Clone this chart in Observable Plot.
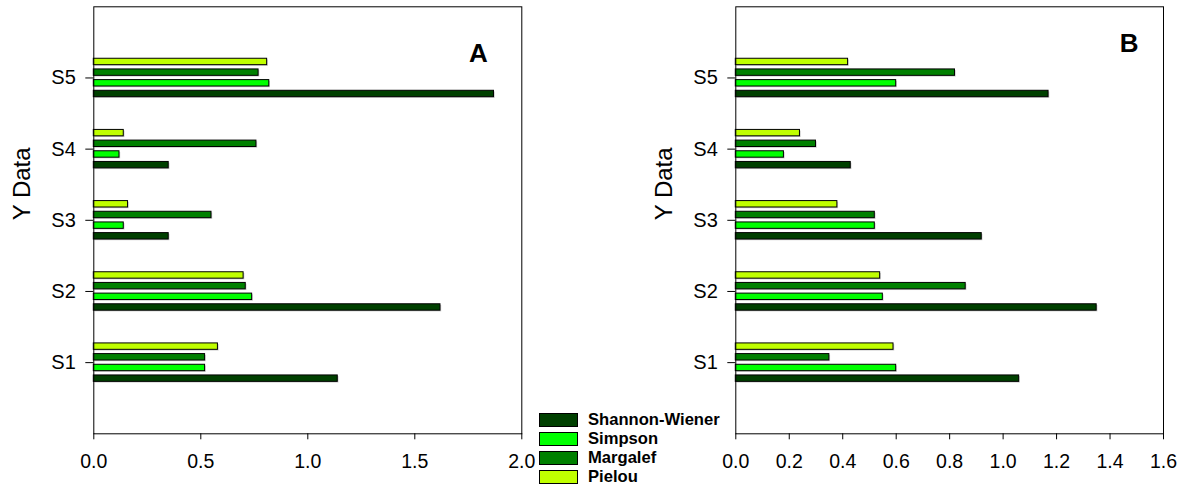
<!DOCTYPE html>
<html>
<head>
<meta charset="utf-8">
<script src="https://cdn.jsdelivr.net/npm/d3@7"></script>
<script src="https://cdn.jsdelivr.net/npm/@observablehq/plot@0.6"></script>
<style>
  html, body { margin: 0; padding: 0; background: #fff; }
  #fig { position: relative; width: 1183px; height: 486px; font-family: "Liberation Sans", Arial, sans-serif; }
  #fig svg { position: absolute; top: 0; }
  #legend { position: absolute; left: 539px; top: 410px; }
  #legend .row { display: flex; align-items: center; height: 19px; }
  #legend .sw { width: 37px; height: 12px; border: 1px solid #000; box-sizing: content-box; }
  #legend .lb { margin-left: 10px; font-weight: bold; font-size: 16.6px; line-height: 14px; }
</style>
</head>
<body>
<div id="fig"></div>
<script>
// Diversity indices per site
const sites = ["S1", "S2", "S3", "S4", "S5"];
const indices = ["Shannon-Wiener", "Simpson", "Margalef", "Pielou"];
const colors = ["#004000", "#00ff00", "#008000", "#c0ff00"];

// Panel A
const shannonA  = [1.14, 1.62, 0.35, 0.35, 1.87];
const simpsonA  = [0.52, 0.74, 0.14, 0.12, 0.82];
const margalefA = [0.52, 0.71, 0.55, 0.76, 0.77];
const pielouA   = [0.58, 0.70, 0.16, 0.14, 0.81];

// Panel B
const shannonB  = [1.06, 1.35, 0.92, 0.43, 1.17];
const simpsonB  = [0.60, 0.55, 0.52, 0.18, 0.60];
const margalefB = [0.35, 0.86, 0.52, 0.30, 0.82];
const pielouB   = [0.59, 0.54, 0.38, 0.24, 0.42];

const xTicksA = [0, 0.5, 1.0, 1.5, 2.0];
const xTicksB = [0, 0.2, 0.4, 0.6, 0.8, 1.0, 1.2, 1.4, 1.6];

const font = "'Liberation Sans', Arial, sans-serif";
const offsets = [-0.225, -0.075, 0.075, 0.225]; // bar position within a site group
const half = 0.045;                              // half bar thickness

function rows(series) {
  const out = [];
  series.forEach((vals, k) => {
    vals.forEach((v, i) => {
      const c = i + 1 + offsets[k];
      out.push({site: sites[i], index: indices[k], value: v, y1: c - half, y2: c + half});
    });
  });
  return out;
}

function panel({series, xMax, xTicks, letter, width, marginLeft, marginRight, letterDx, letterDy}) {
  const data = rows(series);
  return Plot.plot({
    width, height: 486,
    marginLeft, marginRight, marginTop: 6.3, marginBottom: 52.7,
    style: {fontFamily: font, background: "transparent", overflow: "visible"},
    x: {domain: [0, xMax]},
    y: {domain: [0, 6]},
    color: {domain: indices, range: colors},
    marks: [
      // soft drop shadow under each bar
      Plot.rectX(data, {x1: 0, x2: "value", y1: "y1", y2: "y2", fill: "#888", fillOpacity: 0.45, dx: 1.2, dy: 1.2}),
      Plot.rectX(data, {x1: 0, x2: "value", y1: "y1", y2: "y2", fill: "index", stroke: "#000", strokeWidth: 1}),
      Plot.frame({stroke: "#000", strokeWidth: 1}),
      Plot.axisX({ticks: xTicks, tickFormat: d3.format(".1f"), tickSize: 6, tickPadding: 14, fontSize: 19.5, label: null}),
      Plot.axisY({ticks: [1, 2, 3, 4, 5], tickFormat: d => sites[d - 1], tickSize: 8, tickPadding: 10, fontSize: 20, label: null}),
      Plot.text(["Y Data"], {frameAnchor: "left", dx: -71, rotate: -90, fontSize: 24}),
      Plot.text([letter], {frameAnchor: "top-right", textAnchor: "end", lineAnchor: "top", dx: letterDx, dy: letterDy, fontSize: 26, fontWeight: "bold"})
    ]
  });
}

const fig = document.getElementById("fig");

const a = panel({
  series: [shannonA, simpsonA, margalefA, pielouA],
  xMax: 2.0, xTicks: xTicksA, letter: "A",
  width: 530, marginLeft: 93.3, marginRight: 8.7, letterDx: -34, letterDy: 37
});
a.style.left = "0px";
fig.appendChild(a);

const b = panel({
  series: [shannonB, simpsonB, margalefB, pielouB],
  xMax: 1.6, xTicks: xTicksB, letter: "B",
  width: 543, marginLeft: 95.3, marginRight: 20, letterDx: -25, letterDy: 27
});
b.style.left = "640px";
fig.appendChild(b);

// Legend
const legend = document.createElement("div");
legend.id = "legend";
indices.forEach((name, k) => {
  const row = document.createElement("div");
  row.className = "row";
  const sw = document.createElement("div");
  sw.className = "sw";
  sw.style.background = colors[k];
  const lb = document.createElement("div");
  lb.className = "lb";
  lb.textContent = name;
  row.appendChild(sw);
  row.appendChild(lb);
  legend.appendChild(row);
});
fig.appendChild(legend);
</script>
</body>
</html>
